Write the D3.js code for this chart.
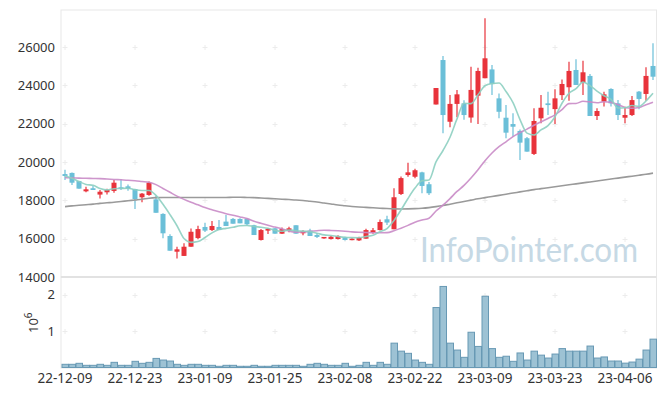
<!DOCTYPE html>
<html><head><meta charset="utf-8">
<script src="https://cdn.jsdelivr.net/npm/d3@7/dist/d3.min.js"></script>
<style>body{margin:0;background:#fff}svg{display:block}</style>
</head><body><svg id="c" width="665" height="396"></svg>
<script>
const dates = ["22-12-09","22-12-12","22-12-13","22-12-14","22-12-15","22-12-16","22-12-19","22-12-20","22-12-21","22-12-22",
"22-12-23","22-12-26","22-12-27","22-12-28","22-12-29","23-01-02","23-01-03","23-01-04","23-01-05","23-01-06",
"23-01-09","23-01-10","23-01-11","23-01-12","23-01-13","23-01-16","23-01-17","23-01-18","23-01-19","23-01-20",
"23-01-25","23-01-26","23-01-27","23-01-30","23-01-31","23-02-01","23-02-02","23-02-03","23-02-06","23-02-07",
"23-02-08","23-02-09","23-02-10","23-02-13","23-02-14","23-02-15","23-02-16","23-02-17","23-02-20","23-02-21",
"23-02-22","23-02-23","23-02-24","23-02-27","23-02-28","23-03-02","23-03-03","23-03-06","23-03-07","23-03-08",
"23-03-09","23-03-10","23-03-13","23-03-14","23-03-15","23-03-16","23-03-17","23-03-20","23-03-21","23-03-22",
"23-03-23","23-03-24","23-03-27","23-03-28","23-03-29","23-03-30","23-03-31","23-04-03","23-04-04","23-04-05",
"23-04-06","23-04-07","23-04-10","23-04-11","23-04-12"];
const open = [19370,19430,19010,18470,18630,18300,18420,18490,18680,18730,
18590,18160,18280,18050,17290,16140,15320,15100,15580,16030,
16610,16450,16610,16890,17030,17030,17030,16700,15930,16420,
16540,16260,16420,16700,16280,16420,16190,16020,15980,15980,
16070,15950,15910,16000,16310,16450,17010,16490,18330,19320,
19230,19460,18840,23000,25320,22100,23030,23060,22320,23460,
24370,24830,23320,22310,21980,21620,21240,20420,22280,23060,
22760,23490,23900,24800,24140,24490,22400,23150,23810,23060,
22310,22450,23670,23550,25010];
const high = [19600,19450,19010,18710,18760,18540,18610,19060,19100,18830,
18600,18380,18980,18240,17320,16230,15580,15760,16530,16680,
16830,16920,16970,17230,17080,17060,17060,16720,16500,16560,
16560,16580,16620,16700,16440,16520,16300,16090,16140,16180,
16100,16020,16100,16520,16560,17000,17200,18630,19240,19960,
19650,19490,18950,23860,25530,23500,23760,23220,24970,24920,
27500,25060,23580,22970,22540,21700,21300,22800,23500,23670,
23790,24310,25230,25360,25280,24590,22800,23670,23850,23230,
22880,23440,23700,24940,26190];
const low = [19060,18800,18600,18420,18540,18090,18300,18400,18540,18500,
17550,17900,18240,17350,16020,15370,14960,15100,15580,15970,
16350,16400,16450,16660,16780,16800,16680,16190,15900,16240,
16260,16240,16330,16260,16180,16140,16030,16000,15950,15950,
15900,15920,15880,16000,16260,16420,16710,16490,18280,19230,
19150,18370,18280,23000,21500,21810,22330,22200,22050,21980,
24370,23500,22280,21240,21320,20100,20540,20360,22020,22450,
21980,23240,23200,24020,23500,22400,22190,22890,22890,22190,
22020,22400,22750,23200,24280];
const close = [19270,18920,18610,18575,18540,18450,18540,18920,18640,18600,
18070,18350,18920,17350,16280,15370,15445,15580,16360,16500,
16420,16660,16450,16660,16780,16800,16750,16190,16450,16520,
16260,16500,16540,16260,16400,16140,16090,16090,16100,16140,
15930,16000,16050,16450,16440,16870,16840,18160,19160,19460,
19570,18750,18370,23860,22450,23030,23530,22450,23760,24750,
25410,24070,22620,21530,21840,21010,20540,22140,22830,22970,
23320,24070,24750,24020,24680,22400,22660,23530,23060,22450,
22450,23230,23290,24490,24450];
const volume = [88000,88000,115000,60000,60000,88000,60000,142000,60000,60000,
170000,115000,142000,250000,205000,178000,88000,60000,88000,88000,
60000,60000,33000,60000,60000,33000,33000,60000,33000,33000,
60000,60000,60000,60000,33000,88000,115000,88000,60000,60000,
115000,33000,60000,142000,60000,142000,88000,670000,450000,390000,
205000,142000,88000,1650000,2230000,670000,480000,280000,970000,580000,
1960000,520000,280000,310000,170000,400000,205000,450000,340000,260000,
370000,520000,450000,450000,450000,590000,260000,290000,178000,178000,
120000,150000,230000,480000,780000];
const ma5 = [19290,19150,18980,18830,18783,18619,18543,18605,18618,18630,
18554,18516,18516,18258,17794,17254,16673,16005,15807,15851,
16061,16304,16478,16538,16594,16670,16688,16636,16594,16542,
16434,16384,16454,16416,16392,16368,16286,16196,16164,16112,
16070,16052,16044,16114,16174,16362,16530,16952,17494,18098,
18638,19020,19062,20002,20600,21292,22248,23064,23044,23504,
23980,24088,24122,23676,23094,22214,21508,21412,21672,21898,
22360,23066,23588,23826,24168,23984,23702,23458,23266,22820,
22830,22944,22896,23182,23582];
const ma20 = [19180,19170,19160,19150,19140,19130,19110,19090,19070,19050,
19020,18980,18940,18820,18620,18420,18220,18050,17900,17765,
17622,17509,17401,17305,17217,17135,17045,16909,16799,16695,
16605,16512,16393,16339,16345,16383,16416,16441,16428,16410,
16386,16353,16333,16322,16305,16309,16313,16412,16547,16694,
16860,16972,17064,17444,17746,18091,18463,18781,19164,19594,
20068,20472,20800,21054,21324,21531,21716,21915,22099,22274,
22462,22728,23047,23055,23166,23135,23091,23145,23110,22995,
22847,22805,22839,22987,23117];
const ma60 = [17670,17710,17740,17770,17800,17840,17870,17900,17940,17980,
18020,18060,18110,18140,18150,18150,18150,18150,18150,18150,
18150,18150,18150,18150,18160,18160,18150,18140,18120,18100,
18080,18060,18040,18020,17990,17950,17910,17860,17810,17760,
17720,17680,17650,17630,17610,17590,17570,17555,17550,17555,
17565,17585,17620,17670,17730,17800,17870,17940,18010,18080,
18140,18200,18260,18320,18380,18440,18500,18560,18610,18660,
18710,18760,18810,18860,18910,18960,19010,19060,19110,19160,
19210,19260,19310,19360,19420];
const priceTicks = [14000,16000,18000,20000,22000,24000,26000];
const volTicks = [1000000,2000000];
const xTickLabels = ["22-12-09","22-12-23","23-01-09","23-01-25","23-02-08","23-02-22","23-03-09","23-03-23","23-04-06"];

const svg = d3.select("#c");
const L = 61.5, R = 656.5, T = 10, PB = 277, VB = 367.5;
const x = d3.scaleBand().domain(dates).range([L, R]).padding(0);
const y = d3.scaleLinear().domain([14000, 27930]).range([PB, T]);
const yv = d3.scaleLinear().domain([0, 2490000]).range([VB, PB]);
const cx = d => x(d) + x.bandwidth() / 2;
const UP = "#e8333b", DOWN = "#6bbfd8";
const font = "'Noto Sans', 'DejaVu Sans', sans-serif";

// frames
svg.append("rect").attr("x", 61).attr("y", 10).attr("width", 595.5).attr("height", 267)
  .attr("fill", "none").attr("stroke", "#e8e8e8");
svg.append("rect").attr("x", 61).attr("y", 277).attr("width", 595.5).attr("height", 91)
  .attr("fill", "none").attr("stroke", "#e8e8e8");
svg.append("line").attr("x1", 61).attr("x2", 656.5).attr("y1", 277).attr("y2", 277)
  .attr("stroke", "#e2e2e2").attr("stroke-width", 2);

// grid crosses
const gx = xTickLabels.map(cx);
const crossG = svg.append("g").attr("stroke", "#ececec").attr("stroke-width", 1);
const drawCross = (px, py) => {
  crossG.append("line").attr("x1", px - 2.5).attr("x2", px + 2.5).attr("y1", py).attr("y2", py);
  crossG.append("line").attr("x1", px).attr("x2", px).attr("y1", py - 2.5).attr("y2", py + 2.5);
};
gx.forEach(px => {
  priceTicks.filter(t => t > 14000).forEach(t => drawCross(px, Math.round(y(t)) + 0.5));
  volTicks.forEach(t => drawCross(px, Math.round(yv(t)) + 0.5));
});

// watermark
svg.append("text").attr("x", 420).attr("y", 262).attr("font-family", "Lato, 'Open Sans', sans-serif")
  .attr("font-size", 34).attr("fill", "#c6d9e5").attr("textLength", 218).attr("lengthAdjust", "spacingAndGlyphs")
  .text("InfoPointer.com");

// volume bars
svg.append("g").selectAll("rect").data(dates).join("rect")
  .attr("x", d => x(d) + 0.5).attr("width", x.bandwidth() - 0.5)
  .attr("y", (d, i) => yv(volume[i])).attr("height", (d, i) => VB - yv(volume[i]))
  .attr("fill", "#9dc2d4").attr("stroke", "#6899b4").attr("stroke-width", 1);

// candles
const cg = svg.append("g");
dates.forEach((d, i) => {
  const col = close[i] >= open[i] ? UP : DOWN;
  cg.append("line").attr("x1", cx(d)).attr("x2", cx(d)).attr("y1", y(high[i])).attr("y2", y(low[i]))
    .attr("stroke", col).attr("stroke-width", 1.2);
  const top = y(Math.max(open[i], close[i])), bot = y(Math.min(open[i], close[i]));
  cg.append("rect").attr("x", cx(d) - 2.5).attr("width", 5).attr("y", top).attr("height", Math.max(1.5, bot - top))
    .attr("fill", col);
});

// moving averages
const line = arr => d3.line().x((d, i) => cx(dates[i])).y(d => y(d)).curve(d3.curveMonotoneX)(arr);
svg.append("path").attr("d", line(ma60)).attr("fill", "none").attr("stroke", "#9a9a9a").attr("stroke-width", 1.6);
svg.append("path").attr("d", line(ma20)).attr("fill", "none").attr("stroke", "#c98bc6").attr("stroke-width", 1.6).attr("opacity", 0.9);
svg.append("path").attr("d", line(ma5)).attr("fill", "none").attr("stroke", "#8dcfc1").attr("stroke-width", 1.6).attr("opacity", 0.9);

// y axis labels (price)
svg.append("g").selectAll("text").data(priceTicks).join("text")
  .attr("x", 55).attr("y", d => y(d)).attr("dy", "0.35em").attr("text-anchor", "end")
  .attr("font-family", font).attr("font-size", 13).attr("fill", "#333").text(d => d);
// volume labels
svg.append("g").selectAll("text").data(volTicks).join("text")
  .attr("x", 55).attr("y", d => yv(d)).attr("dy", "0.35em").attr("text-anchor", "end")
  .attr("font-family", font).attr("font-size", 13).attr("fill", "#333").text(d => d / 1e6);
const ex = svg.append("text").attr("transform", "translate(38,333) rotate(-90)")
  .attr("font-family", font).attr("font-size", 13).attr("fill", "#333");
ex.append("tspan").text("10");
ex.append("tspan").attr("dy", -6).attr("font-size", 10).text("6");

// x axis labels
svg.append("g").selectAll("text").data(xTickLabels).join("text")
  .attr("x", d => cx(d)).attr("y", 383).attr("text-anchor", "middle")
  .attr("font-family", font).attr("font-size", 13.5).attr("fill", "#333").text(d => d);
</script></body></html>
